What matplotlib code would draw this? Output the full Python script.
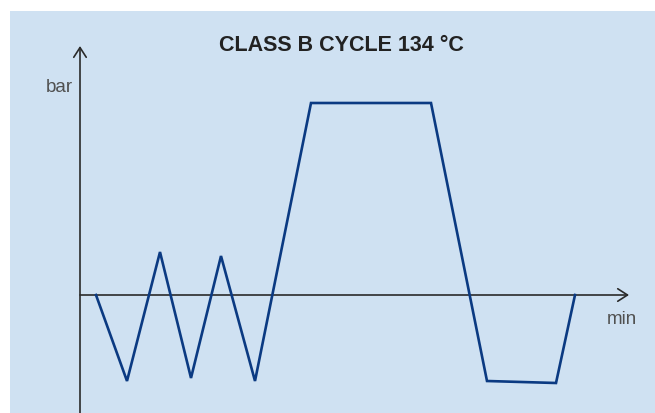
import matplotlib.pyplot as plt
from matplotlib.patches import Rectangle

# cycle profile (time in arbitrary minutes, pressure in arbitrary bar units)
time_min = [1.6, 4.7, 8.0, 11.1, 14.1, 17.5, 23.1, 35.1, 40.7, 47.6, 49.5]
pressure = [0.0, -8.6, 4.3, -8.3, 3.9, -8.6, 19.2, 19.2, -8.6, -8.8, 0.0]

title = "CLASS B CYCLE 134 °C"
x_label = "min"
y_label = "bar"

bg = "#cfe1f2"
axis_col = "#2a2a2a"
line_col = "#0b3a82"

plt.rcParams['font.family'] = ['Liberation Sans', 'DejaVu Sans']

fig = plt.figure(figsize=(6.55, 4.13), dpi=100)
fig.patch.set_facecolor("white")

ax = fig.add_axes([0, 0, 1, 1])
ax.set_facecolor("none")
ax.set_xlim(-8.0, 57.5)
ax.set_ylim(-11.8, 29.5)
ax.axis("off")

# light blue panel, leaving a white strip top and left
ax.add_patch(Rectangle((10 / 655, 0), 1 - 10 / 655, 402 / 413,
                       transform=fig.transFigure, facecolor=bg,
                       edgecolor="none", zorder=0, clip_on=False))

# axes with open arrow heads
ax.annotate("", xy=(54.9, 0), xytext=(0, 0),
            arrowprops=dict(arrowstyle="->,head_length=0.7,head_width=0.45",
                            color=axis_col, lw=1.2, shrinkA=0, shrinkB=0))
ax.annotate("", xy=(0, 24.9), xytext=(0, -11.8),
            arrowprops=dict(arrowstyle="->,head_length=0.7,head_width=0.45",
                            color=axis_col, lw=1.2, shrinkA=0, shrinkB=0))

ax.plot(time_min, pressure, color=line_col, lw=1.9, solid_joinstyle="miter", zorder=3)

ax.text(26.1, 24.9, title, ha="center", va="center", fontsize=15.5,
        fontweight="bold", color="#222222")
ax.text(-0.75, 20.7, y_label, ha="right", va="center", fontsize=13.5, color="#505050")
ax.text(54.2, -2.5, x_label, ha="center", va="center", fontsize=13.5, color="#505050")

fig.savefig("out.png", dpi=100)
